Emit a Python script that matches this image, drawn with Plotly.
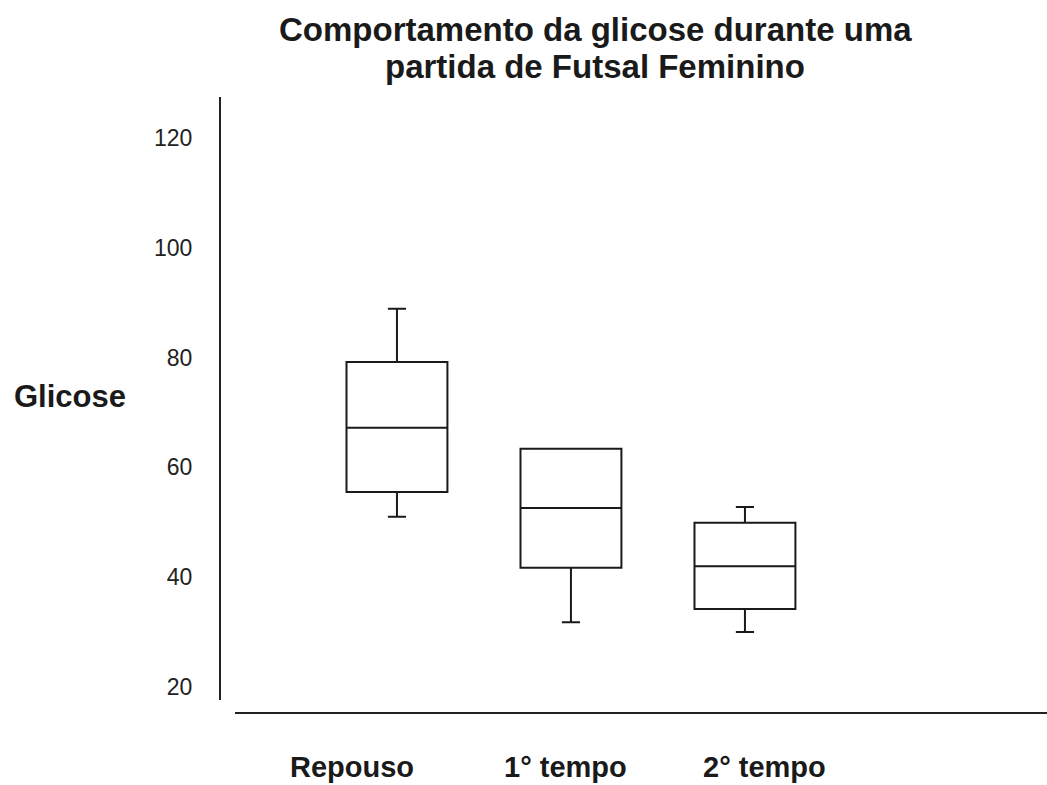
import plotly.graph_objects as go

# ---- data ----
categories = ["Repouso", "1° tempo", "2° tempo"]
lower_fence = [51.0, 31.8, 30.0]
q1_values = [55.5, 41.7, 34.2]
median_values = [67.2, 52.6, 42.0]
q3_values = [79.2, 63.4, 49.9]
upper_fence = [88.9, 63.1, 52.8]
y_tick_values = [20, 40, 60, 80, 100, 120]

title_lines = ["Comportamento da glicose durante uma", "partida de Futsal Feminino"]
y_title = "Glicose"

# ---- layout constants ----
W, H = 1047, 785
label_offsets = [-0.26, -0.034, 0.115]   # category label shift (category units)
FONT = "Arial, 'Liberation Sans', sans-serif"
INK = "#1a1a1a"

fig = go.Figure()
fig.add_trace(go.Box(
    x=categories,
    q1=q1_values,
    median=median_values,
    q3=q3_values,
    lowerfence=lower_fence,
    upperfence=upper_fence,
    boxpoints=False,
    width=0.58,
    whiskerwidth=0.18,
    line=dict(color=INK, width=2),
    fillcolor="rgba(0,0,0,0)",
    showlegend=False,
))

annotations = []
# title lines
for txt, yy in zip(title_lines, [1.110, 1.050]):
    annotations.append(dict(
        text=f"<b>{txt}</b>", xref="paper", yref="paper", x=0.454, y=yy,
        xanchor="center", yanchor="middle", showarrow=False,
        font=dict(family=FONT, size=33, color=INK)))
# y axis title
annotations.append(dict(
    text=f"<b>{y_title}</b>", xref="paper", yref="paper", x=-0.1814, y=0.513,
    xanchor="center", yanchor="middle", showarrow=False,
    font=dict(family=FONT, size=31, color=INK)))
# category labels
for i, (cat, off) in enumerate(zip(categories, label_offsets)):
    annotations.append(dict(
        text=f"<b>{cat}</b>", xref="x", yref="paper", x=i + off, y=-0.0875,
        xanchor="center", yanchor="middle", showarrow=False,
        font=dict(family=FONT, size=29, color=INK)))

fig.update_layout(
    width=W, height=H,
    margin=dict(l=220, r=0, t=97, b=72, pad=0),
    paper_bgcolor="white", plot_bgcolor="white",
    font=dict(family=FONT, color=INK),
    annotations=annotations,
    xaxis=dict(
        type="category", showticklabels=False, ticks="",
        showline=True, linecolor="#222", linewidth=2,
        showgrid=False, zeroline=False,
        range=[-0.931, 3.736], domain=[0.0181, 1],
        anchor="free", position=0,
    ),
    yaxis=dict(
        range=[17.63, 127.47], domain=[0.0211, 1],
        tickvals=y_tick_values, ticks="",
        showline=True, linecolor="#222", linewidth=2,
        showgrid=False, zeroline=False,
        anchor="free", position=0,
        ticklabelstandoff=22,
        tickfont=dict(family=FONT, size=23, color="#222"),
    ),
)

fig.write_html(
    "out.html",
    config={"displayModeBar": False},
    post_script="document.body.style.margin='0';"
                "document.documentElement.style.overflow='hidden';",
)
